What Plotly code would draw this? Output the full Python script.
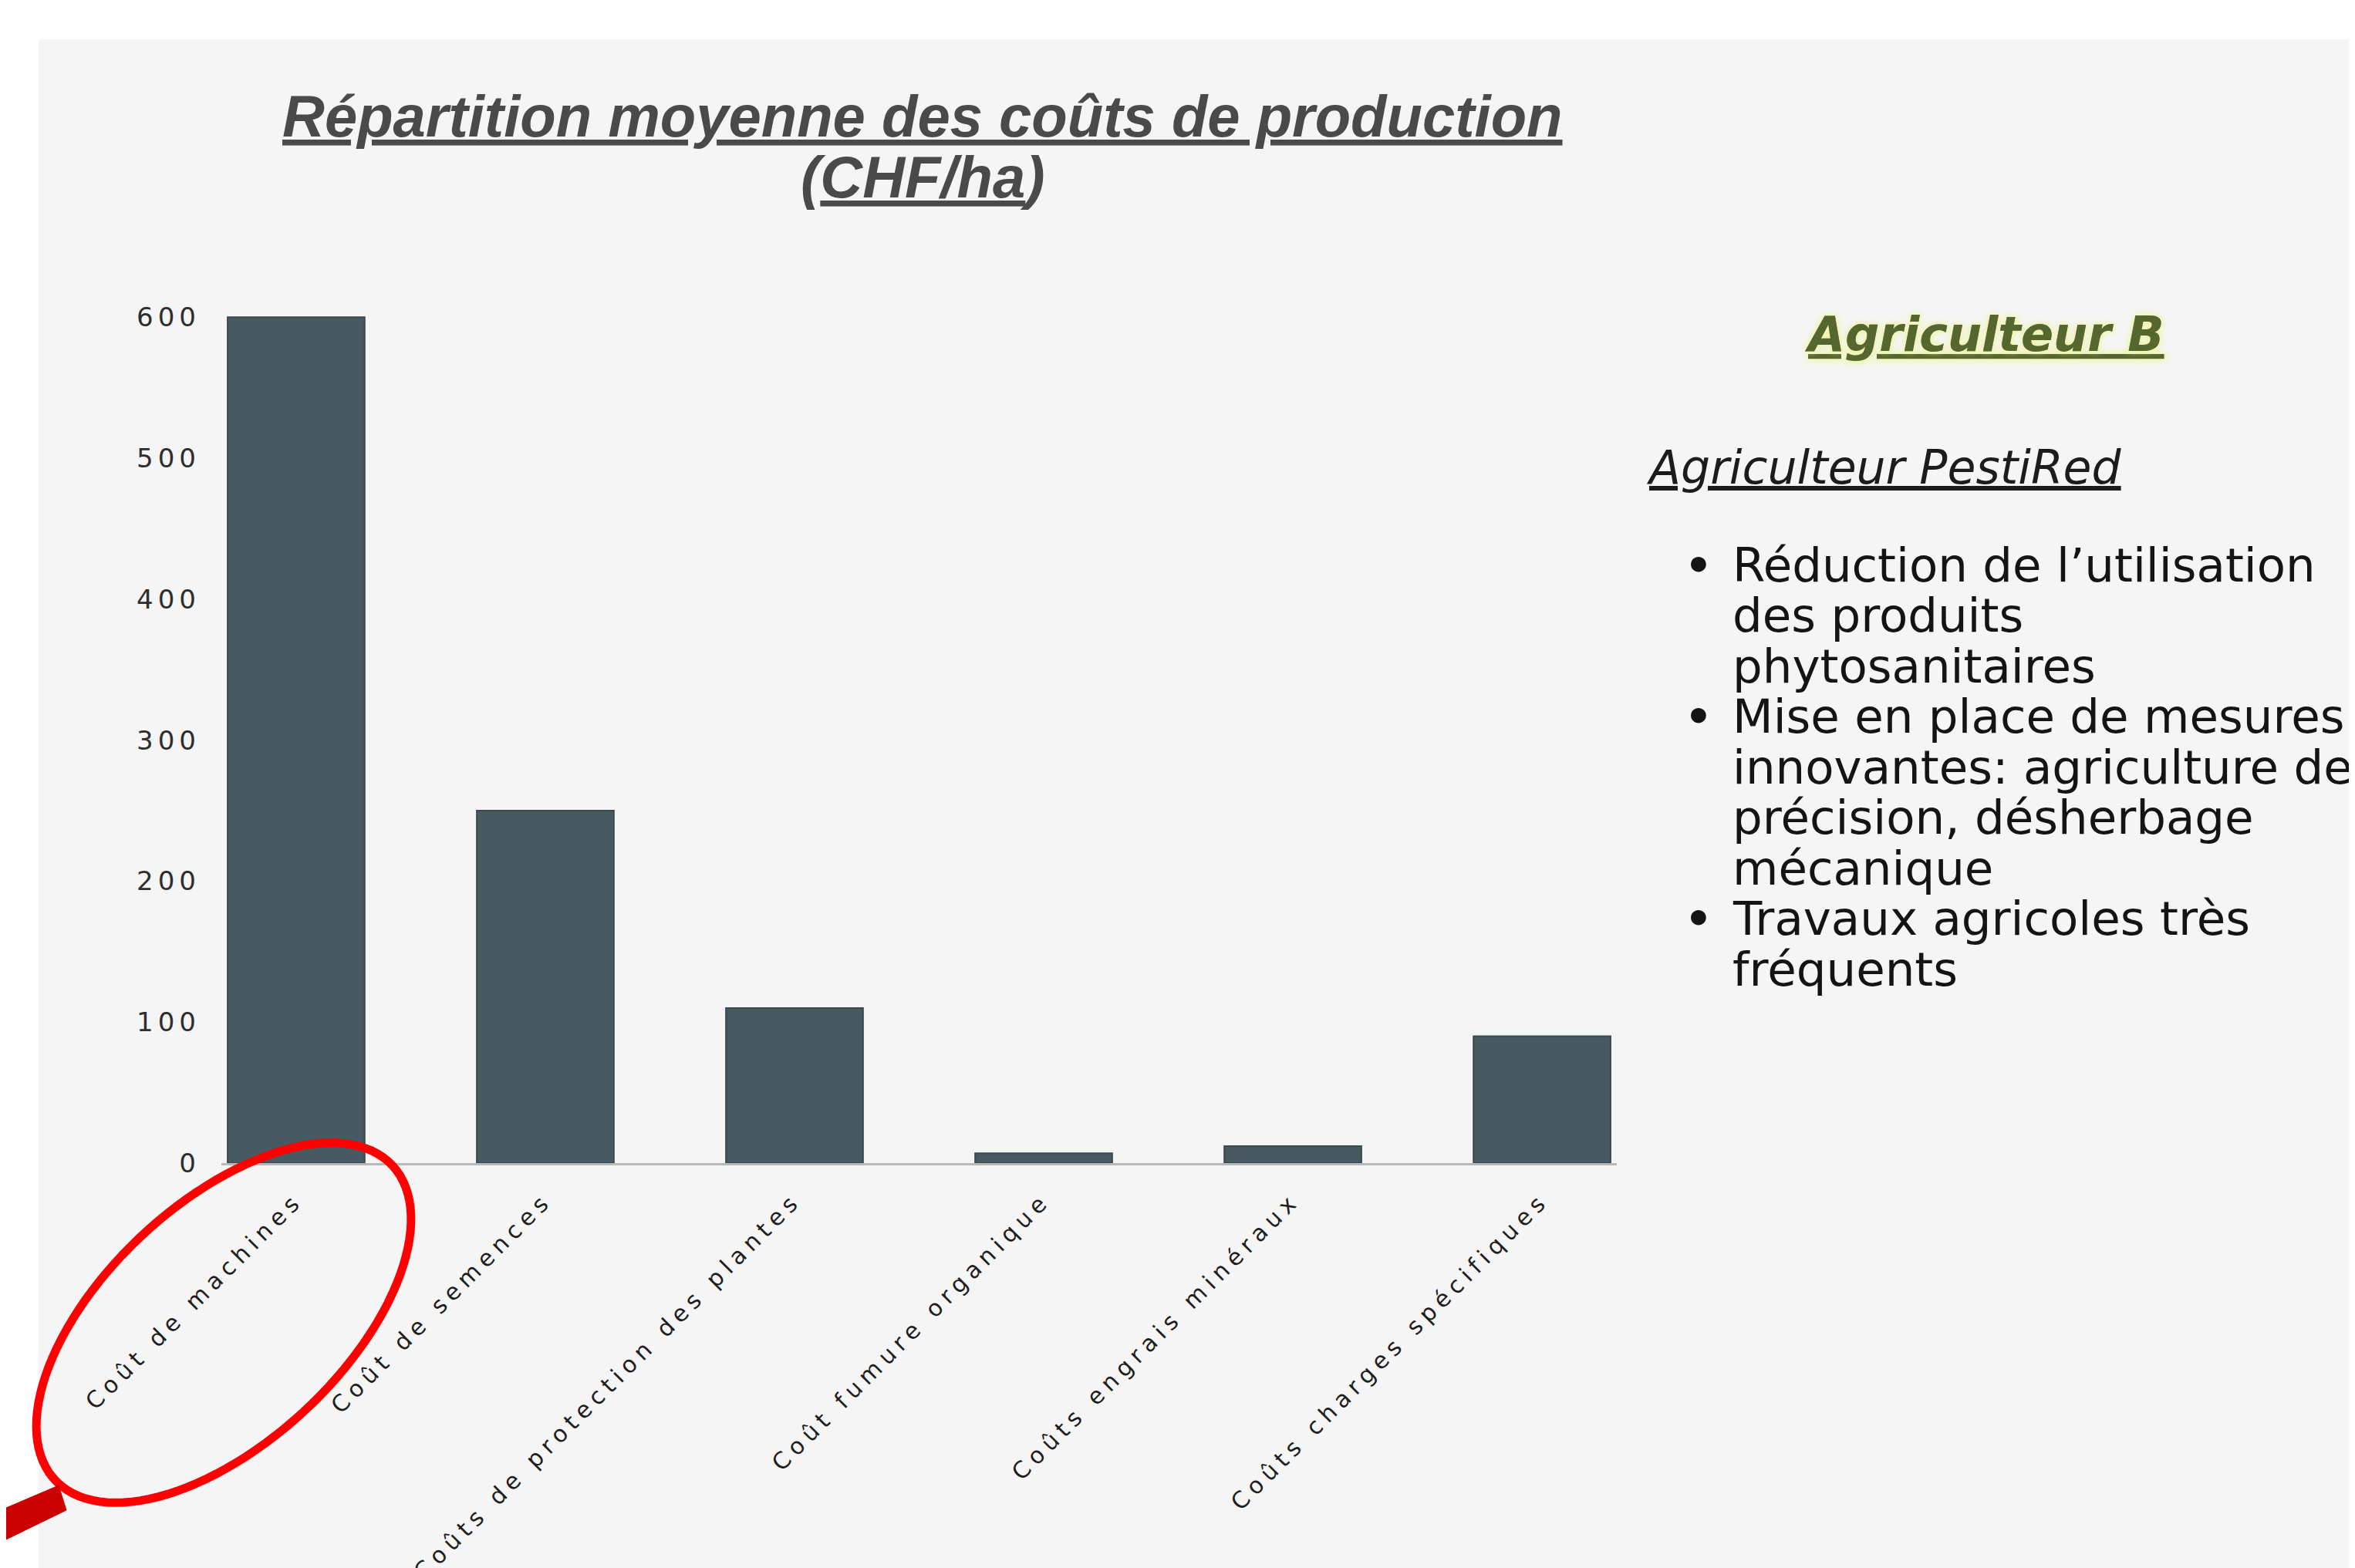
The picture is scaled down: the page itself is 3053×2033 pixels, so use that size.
import numpy as np
import plotly.graph_objects as go

# Data
categories = [
    "Coût de machines",
    "Coût de semences",
    "Coûts de protection des plantes",
    "Coût fumure organique",
    "Coûts engrais minéraux",
    "Coûts charges spécifiques",
]
couts_chf_ha = [600, 250, 110, 7, 12, 90]
y_ticks = [0, 100, 200, 300, 400, 500, 600]

title_lines = ["<u>Répartition moyenne des coûts de production</u>", "(<u>CHF/ha</u>)"]
side_title = "Agriculteur B"
side_subtitle = "Agriculteur PestiRed"
bullet_lines = [
    "Réduction de l’utilisation",
    "des produits",
    "phytosanitaires",
    "Mise en place de mesures",
    "innovantes: agriculture de",
    "précision, désherbage",
    "mécanique",
    "Travaux agricoles très",
    "fréquents",
]
bullet_starts = [0, 3, 7]

# Page geometry (pixels)
W, H = 3053, 2033
L, R, T, B = 279, 965, 385, 533
PW, PH = W - L - R, H - T - B


def px(x):
    return (x - L) / PW


def py(y):
    return (H - B - y) / PH


def spaced(s, sp=7):
    return f'<span style="letter-spacing:{sp}px">{s}</span>'


fig = go.Figure()
fig.add_trace(
    go.Bar(
        x=categories,
        y=couts_chf_ha,
        marker=dict(color="#475a61", line=dict(color="#3b484c", width=2)),
        width=0.55,
    )
)

fig.update_xaxes(
    range=[-0.3, 5.3],
    tickmode="array",
    tickvals=categories,
    ticktext=[spaced(c) for c in categories],
    tickangle=-45,
    tickfont=dict(family="DejaVu Sans", size=30, color="#1e1e1e"),
    ticklabelstandoff=16,
    showline=True,
    linecolor="#b8b8b8",
    linewidth=3,
    showgrid=False,
    zeroline=False,
)
fig.update_yaxes(
    range=[0, 610],
    tickmode="array",
    tickvals=y_ticks,
    ticktext=[spaced(str(v), 6) for v in y_ticks],
    tickfont=dict(family="DejaVu Sans", size=34, color="#2e2e2e"),
    ticklabelstandoff=26,
    showgrid=False,
    zeroline=False,
    showline=False,
)

# background panels
shapes = [
    dict(type="rect", xref="paper", yref="paper", x0=px(0), x1=px(W), y0=py(H), y1=py(0),
         fillcolor="#ffffff", line_width=0, layer="below"),
    dict(type="rect", xref="paper", yref="paper", x0=px(42), x1=px(W), y0=py(H), y1=py(43),
         fillcolor="#f5f5f5", line_width=0, layer="below"),
]

# red ellipse around the first label
cx, cy, a, b, th = 282, 1707, 299, 155, np.radians(43)
t = np.linspace(0, 2 * np.pi, 120)
ex = cx + a * np.cos(th) * np.cos(t) - b * np.sin(th) * np.sin(t)
ey = cy - (a * np.sin(th) * np.cos(t) + b * np.cos(th) * np.sin(t))
path = "M " + " L ".join(f"{px(x):.5f},{py(y):.5f}" for x, y in zip(ex, ey)) + " Z"
shapes.append(dict(type="path", xref="paper", yref="paper", path=path,
                   line=dict(color="#ff0000", width=11), layer="above"))
arrow = [(0, 1947), (68, 1918), (78, 1950), (0, 1988)]
apath = "M " + " L ".join(f"{px(x):.5f},{py(y):.5f}" for x, y in arrow) + " Z"
shapes.append(dict(type="path", xref="paper", yref="paper", path=apath,
                   fillcolor="#cc0000", line=dict(color="#cc0000", width=1), layer="above"))

annotations = []
title_font = dict(family="Liberation Sans", size=76, color="#4a4a4a")
for i, line in enumerate(title_lines):
    annotations.append(dict(
        text=f"<b><i>{line}</i></b>", x=px(1188), y=py(142 + 80 * i),
        xref="paper", yref="paper", xanchor="center", yanchor="middle",
        showarrow=False, font=title_font,
    ))

annotations.append(dict(
    text=f"<b><i><u>{side_title}</u></i></b>", x=px(2564), y=py(425),
    xref="paper", yref="paper", xanchor="center", yanchor="middle", showarrow=False,
    font=dict(family="DejaVu Sans", size=62, color="#56662f", shadow="0px 0px 8px #eef5a8"),
))
annotations.append(dict(
    text=f"<i><u>{side_subtitle}</u></i>", x=px(2124), y=py(598),
    xref="paper", yref="paper", xanchor="left", yanchor="middle", showarrow=False,
    font=dict(family="DejaVu Sans", size=60, color="#1c1c1c"),
))
for i, line in enumerate(bullet_lines):
    yy = 724 + 65.5 * i
    annotations.append(dict(
        text=line, x=px(2236), y=py(yy), xref="paper", yref="paper",
        xanchor="left", yanchor="middle", showarrow=False,
        font=dict(family="DejaVu Sans", size=61, color="#141414"),
    ))
    if i in bullet_starts:
        annotations.append(dict(
            text="<b>•</b>", x=px(2194), y=py(yy), xref="paper", yref="paper",
            xanchor="center", yanchor="middle", showarrow=False,
            font=dict(family="DejaVu Sans", size=56, color="#141414"),
        ))

fig.update_layout(
    width=W,
    height=H,
    margin=dict(l=L, r=R, t=T, b=B, autoexpand=False),
    paper_bgcolor="#f5f5f5",
    plot_bgcolor="rgba(0,0,0,0)",
    showlegend=False,
    shapes=shapes,
    annotations=annotations,
)

fig.write_html("out.html")
